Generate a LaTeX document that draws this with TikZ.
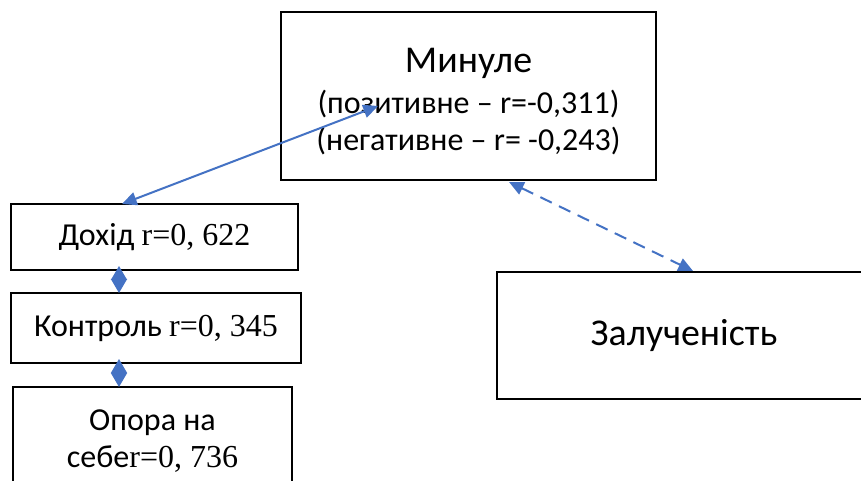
\documentclass[tikz,border=0pt]{standalone}
\usepackage{fontspec}
\setmainfont{Carlito}
\newfontfamily\tnr{Liberation Serif}
\usetikzlibrary{arrows.meta}
\definecolor{arrblue}{RGB}{68,114,196}
\tikzset{
  box/.style={draw=black, line width=1.6pt, fill=white, inner sep=0pt, align=center, anchor=center},
  smalltext/.style={font=\fontsize{24pt}{27.75pt}\selectfont},
  bigtext/.style={font=\fontsize{28.4pt}{34pt}\selectfont},
  conn/.style={draw=arrblue, line width=1.5pt, {Triangle[length=11pt,width=10pt]}-{Triangle[length=11pt,width=10pt]}},
  dconn/.style={conn, dash pattern=on 9.5pt off 6pt},
  dia/.style={draw=arrblue, line width=1pt, {Triangle[length=10.5pt,width=12pt]}-{Triangle[length=10.5pt,width=12pt]}},
}
\begin{document}
\begin{tikzpicture}[x=0.75pt,y=-0.75pt]
\clip (0,0) rectangle (861,481);
\fill[white] (0,0) rectangle (861,481);
\node[box, minimum width=375*0.75pt, minimum height=168*0.75pt] (minule) at (468.5,96) {};
\node[smalltext, align=center, inner sep=0pt] (minuletext) at (468.5,102)
  {{\fontsize{28.4pt}{34pt}\selectfont Минуле}\\[3pt]
   (позитивне – r=-0,311)\\
   (негативне – r= -0,243)};
\node[box, smalltext, minimum width=287*0.75pt, minimum height=66*0.75pt] (dohid) at (154.5,237)
  {Дохід {\tnr r=0, 622}};
\node[box, smalltext, minimum width=290*0.75pt, minimum height=70*0.75pt] (kontrol) at (156,328)
  {Контроль {\tnr r=0, 345}};
\node[box, smalltext, minimum width=279*0.75pt, minimum height=108*0.75pt] (opora) at (152.5,441)
  {Опора на\\ себе{\tnr r=0, 736}};
\node[box, bigtext, minimum width=374*0.75pt, minimum height=127*0.75pt] (zal) at (684,335.5)
  {Залученість};
\coordinate (a1) at (122,204);
\coordinate (a2) at (378,106);
\coordinate (b1) at (509,182);
\coordinate (b2) at (693,271);
\coordinate (d1) at (119,266);
\coordinate (d2) at (119,293);
\coordinate (e1) at (119,359);
\coordinate (e2) at (119,387);
\draw[conn] (a1) -- (a2);
\draw[dconn] (b1) -- (b2);
\draw[dia] (d1) -- (d2);
\draw[dia] (e1) -- (e2);
\end{tikzpicture}
\end{document}
